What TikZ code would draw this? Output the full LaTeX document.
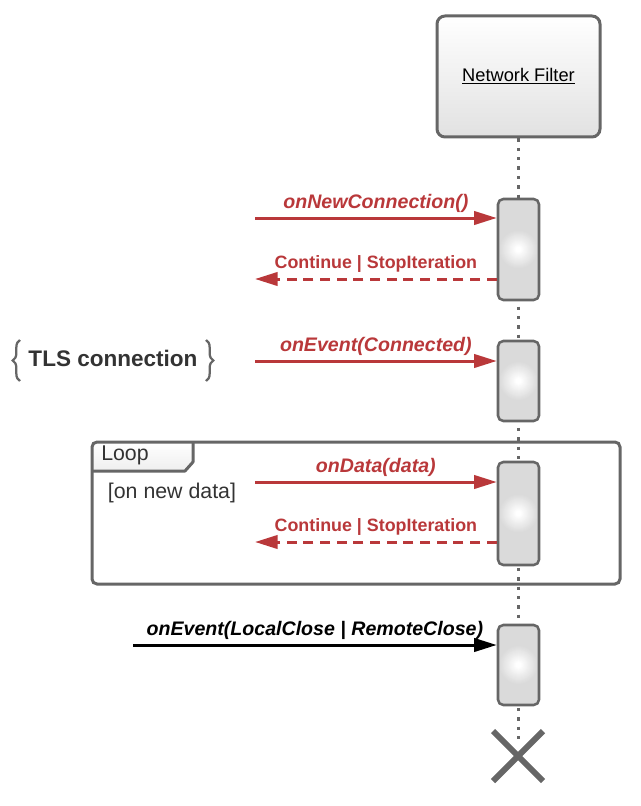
\documentclass[tikz,border=0pt]{standalone}
\usepackage{fontspec}
\setmainfont{Liberation Sans}
\usetikzlibrary{arrows.meta,decorations.pathreplacing}
\definecolor{msgred}{RGB}{185,56,58}
\definecolor{edgegray}{RGB}{102,102,102}
\definecolor{actgray}{RGB}{218,218,218}
\definecolor{txtgray}{RGB}{51,51,51}
\tikzset{
  hdr/.style={draw=edgegray, line width=2.25pt, rounded corners=6pt, top color=white, bottom color=actgray!80, minimum width=122.25pt, minimum height=90.75pt, font=\fontsize{13.7}{16}\selectfont, text=black},
  actbox/.style={draw=edgegray, line width=1.9pt, rounded corners=4pt, fill=actgray, minimum width=30.75pt, inner sep=0pt,
    path picture={\foreach \k [evaluate=\k as \p using {int(100*\k/17)}] in {0,...,17}{\fill[white!\p!actgray] (path picture bounding box.center) circle ({(20-\k)*0.75pt});}}},
  lifeline/.style={draw=edgegray, line width=1.6pt, dash pattern=on 2.5pt off 4.5pt},
  callmsg/.style={draw=msgred, line width=2.25pt, -{Triangle[length=17pt,width=10pt]}},
  retmsg/.style={draw=msgred, line width=2.25pt, dash pattern=on 7.5pt off 5pt, -{Triangle[length=17pt,width=10pt]}},
  blackmsg/.style={draw=black, line width=2.25pt, -{Triangle[length=17pt,width=10pt]}},
  calllbl/.style={midway, anchor=base, yshift=7.5pt, text=msgred, font=\bfseries\itshape\fontsize{14.7}{17}\selectfont},
  retlbl/.style={midway, anchor=base, yshift=8pt, text=msgred, font=\bfseries\fontsize{13.4}{16}\selectfont},
  blacklbl/.style={midway, anchor=base, yshift=7.5pt, text=black, font=\bfseries\itshape\fontsize{14.7}{17}\selectfont},
  frametxt/.style={text=txtgray, font=\fontsize{16}{19}\selectfont},
  bracestyle/.style={draw=edgegray, line width=1.7pt, decorate, decoration={brace, amplitude=5.5pt}},
}
\begin{document}
\begin{tikzpicture}[x=0.75pt, y=-0.75pt]
\useasboundingbox (0,0) rectangle (640,806);

% header
\node[hdr] (nf) at (518.5,76.5) {\underline{Network Filter}};
\coordinate (lifeend) at (518.5,745);
\draw[lifeline] (nf.south) -- (lifeend);

% loop frame
\shade[top color=white, bottom color=actgray!45] (92,471) [rounded corners=3.75pt] -- (92,442) [sharp corners] -- (193,442) -- (193,462) -- (185,471) -- cycle;
\draw[edgegray, line width=2.25pt, line join=round] (92,471) -- (185,471) -- (193,462) -- (193,442);
\draw[edgegray, line width=2.25pt, rounded corners=3.75pt] (92,442) rectangle (620,584);
\node[frametxt] (looplbl) at (125,455) {Loop};
\node[frametxt] (guard) at (172,493) {[on new data]};

% activations
\node[actbox, minimum height=75.75pt] (a1) at (518.5,249.5) {};
\node[actbox, minimum height=60pt] (a2) at (518.5,381) {};
\node[actbox, minimum height=77.25pt] (a3) at (518.5,513.5) {};
\node[actbox, minimum height=60pt] (a4) at (518.5,665) {};

% message end points
\coordinate (s1) at (255,218);
\coordinate (r1) at (255,279);
\coordinate (s2) at (255,361);
\coordinate (s3) at (255,482);
\coordinate (r3) at (255,542);
\coordinate (s4) at (133,645);

\draw[callmsg] (s1) -- node[calllbl] {onNewConnection()} (s1 -| a1.west);
\draw[retmsg] (r1 -| a1.west) -- node[retlbl] {Continue | StopIteration} (r1);
\draw[callmsg] (s2) -- node[calllbl] {onEvent(Connected)} (s2 -| a2.west);
\draw[callmsg] (s3) -- node[calllbl] {onData(data)} (s3 -| a3.west);
\draw[retmsg] (r3 -| a3.west) -- node[retlbl] {Continue | StopIteration} (r3);
\draw[blackmsg] (s4) -- node[blacklbl] {onEvent(LocalClose | RemoteClose)} (s4 -| a4.west);

% TLS connection note
\node[text=txtgray, font=\bfseries\fontsize{16.9}{20}\selectfont] (tls) at (113,358) {TLS connection};
\draw[bracestyle] (20,381) -- (20,340);
\draw[bracestyle] (206,340) -- (206,381);

% destruction
\draw[edgegray, line width=4.5pt] (493,731) -- (543,781);
\draw[edgegray, line width=4.5pt] (543,731) -- (493,781);
\end{tikzpicture}
\end{document}
